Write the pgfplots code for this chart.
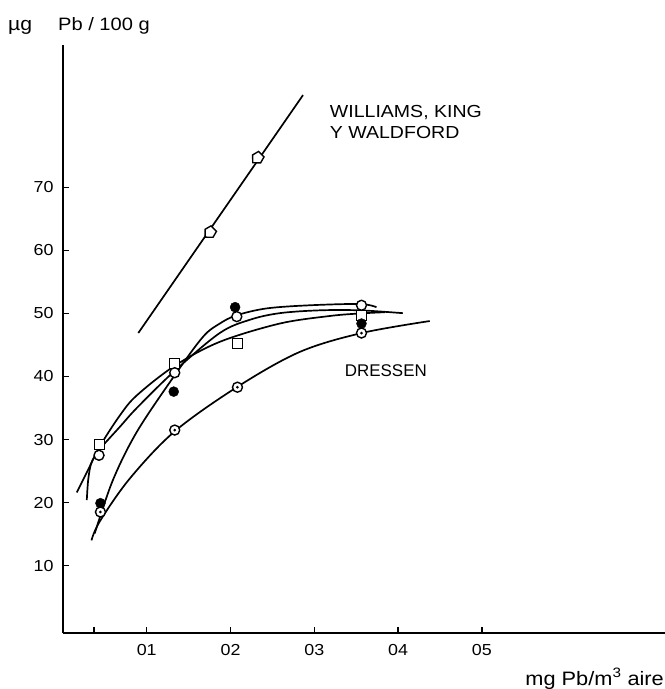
\documentclass[border=0pt]{standalone}
\usepackage{fontspec}
\setmainfont{Liberation Sans}
\newfontfamily\widefont[FakeStretch=1.12]{Liberation Sans}
\usepackage{pgfplots}
\pgfplotsset{compat=1.18}

% open circle with a dot in the middle
\pgfdeclareplotmark{odot}{%
  \pgfpathcircle{\pgfpointorigin}{\pgfplotmarksize}\pgfusepathqfillstroke
  \begin{pgfscope}%
    \pgfsetfillcolor{black}%
    \pgfpathcircle{\pgfpointorigin}{0.3\pgfplotmarksize}\pgfusepathqfill
  \end{pgfscope}}

% house-like marker pointing down-left (Williams)
\pgfdeclareplotmark{shield}{%
  \pgfpathmoveto{\pgfpointpolar{225}{1.25\pgfplotmarksize}}%
  \pgfpathlineto{\pgfpointpolar{295}{\pgfplotmarksize}}%
  \pgfpathlineto{\pgfpointpolar{5}{\pgfplotmarksize}}%
  \pgfpathlineto{\pgfpointpolar{85}{\pgfplotmarksize}}%
  \pgfpathlineto{\pgfpointpolar{155}{\pgfplotmarksize}}%
  \pgfpathclose\pgfusepathqfillstroke}

\tikzset{
  curve/.style={black, line width=1.7pt, no marks, smooth, tension=0.55},
  pts/.style={black, only marks, mark size=5bp, mark options={fill=white, line width=1.4pt}},
}

\begin{document}
\begin{tikzpicture}
\begin{axis}[
  scale only axis,
  width=602bp, height=588bp,
  xmin=0, xmax=0.7188,
  ymin=-0.7, ymax=92.6,
  axis lines=left,
  axis line style={-, line width=1.8pt},
  clip=false,
  xtick={0.1,0.2,0.3,0.4,0.5},
  xticklabels={01,02,03,04,05},
  extra x ticks={0.037},
  extra x tick labels={},
  ytick={10,20,30,40,50,60,70},
  tick align=inside,
  major tick length=6bp,
  every tick/.style={black, line width=1.5pt},
  xticklabel shift=8pt,
  yticklabel shift=6pt,
  ticklabel style={font=\widefont\fontsize{16}{18}\selectfont},
  /pgf/number format/assume math mode=true,
]

\coordinate (O) at (rel axis cs:0,0);

% Williams, King y Waldford
\addplot[curve, smooth=false] coordinates {(0.0899,46.9) (0.2866,84.65)};
\addplot[pts, mark=shield, mark size=6bp]
  coordinates {(0.1761,62.95) (0.2329,74.76)};

% fitted curves
\addplot[curve] coordinates {
  (0.0164,21.6) (0.0300,25.2) (0.0439,28.9) (0.0678,33.8) (0.0881,37.0)
  (0.1334,41.7) (0.1872,45.5) (0.2588,48.4) (0.3185,49.6) (0.3543,50.0) (0.3842,50.2)};
\addplot[curve] coordinates {
  (0.0284,20.4) (0.0300,23.5) (0.0330,25.9) (0.0380,27.4) (0.0439,28.5)
  (0.0678,32.0) (0.0881,35.0) (0.1334,40.9) (0.1872,46.9) (0.2231,49.0)
  (0.2588,50.05) (0.3066,50.5) (0.3543,50.5) (0.4057,50.05)};
\addplot[curve] coordinates {
  (0.0379,15.1) (0.0594,23.5) (0.0881,31.2) (0.1334,40.2) (0.1672,46.3)
  (0.1872,48.4) (0.2071,49.7) (0.2429,50.8) (0.2946,51.3) (0.3543,51.5) (0.3743,51.0)};
% Dressen
\addplot[curve] coordinates {
  (0.0340,14.0) (0.0439,17.0) (0.0797,23.8) (0.1334,31.3) (0.2087,38.4)
  (0.2827,43.9) (0.3567,46.9) (0.4379,48.8)};

% data points
\addplot[pts, mark=square*]
  coordinates {(0.0439,29.2) (0.1334,42.1) (0.2087,45.2) (0.3564,49.7)};
\addplot[pts, mark=*]
  coordinates {(0.0430,27.5) (0.1334,40.6) (0.2075,49.5) (0.3564,51.3)};
\addplot[pts, mark=*, mark options={fill=black}]
  coordinates {(0.0447,19.9) (0.1322,37.6) (0.2055,51.0) (0.3564,48.4)};
\addplot[pts, mark=odot]
  coordinates {(0.0447,18.5) (0.1334,31.5) (0.2083,38.3) (0.3564,46.9)};

\node[anchor=north west, align=left, font=\widefont\fontsize{17.5}{21}\selectfont, inner sep=0pt]
  at (axis cs:0.3185,83.1) {WILLIAMS, KING\\Y WALDFORD};
\node[anchor=west, font=\fontsize{17}{20}\selectfont, inner sep=0pt]
  at (axis cs:0.3364,41.0) {DRESSEN};
\end{axis}

\node[anchor=base west, font=\widefont\fontsize{19}{22}\selectfont, inner sep=0pt]
  at ([shift={(-55bp,602bp)}]O) {µg};
\node[anchor=base west, font=\widefont\fontsize{18}{22}\selectfont, inner sep=0pt]
  at ([shift={(-5bp,602bp)}]O) {Pb / 100 g};
\node[anchor=base east, font=\widefont\fontsize{19.5}{22}\selectfont, inner sep=0pt]
  at ([shift={(601bp,-52bp)}]O) {mg Pb/m\textsuperscript{3} aire};

\pgfresetboundingbox
\path ([shift={(-63bp,-56bp)}]O) rectangle ([shift={(602bp,633bp)}]O);
\end{tikzpicture}
\end{document}
